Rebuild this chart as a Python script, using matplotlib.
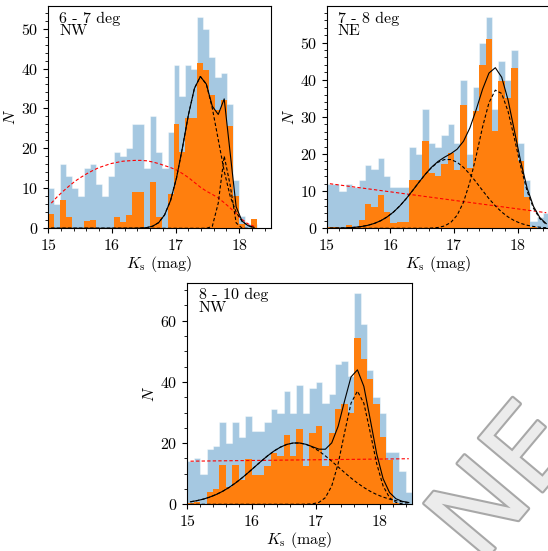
import numpy as np
import matplotlib
matplotlib.use('Agg')
import matplotlib.pyplot as plt
import matplotlib.patheffects as pe
from matplotlib.ticker import MultipleLocator

plt.rcParams.update({
    'font.family': 'serif',
    'font.serif': ['cmr10', 'DejaVu Serif'],
    'mathtext.fontset': 'cm',
    'axes.formatter.use_mathtext': True,
    'font.size': 11.5,
})

# ---- panel 1: 6 - 7 deg, NW (bins of ~0.094 mag) ----
p1_blue = [10, 6, 16, 13, 10, 8, 15, 16, 11, 8, 13, 19, 18, 20, 26, 26, 15, 28, 19, 15,
           24, 41, 33, 41, 40, 53, 50, 43, 38, 39, 31, 12, 3, 1, 1]
p1_orange = [3.6, 0, 7, 2.8, 0, 0, 1.8, 2.1, 0, 0, 0, 2.9, 1.6, 3.4, 9.2, 9.2, 0, 11.5, 2.8, 0,
             8.6, 26, 19, 27.5, 27.5, 41.5, 39.7, 33.4, 29.5, 32, 25.5, 8, 1, 0, 2.4]
p1_comp_a = [0] * 15 + [0.05, 0.17, 0.53, 1.41, 3.35, 6.95, 12.6, 20.2, 28.4, 35.0,
                        38.0, 36.1, 30.1, 22.2, 14.3, 8.05, 4.02, 1.75, 0.67, 0.23]
p1_comp_b = [0] * 27 + [0.47, 6.3, 18.1, 10.8, 1.37, 0.04, 0, 0]
p1_total = [0] * 15 + [0.05, 0.17, 0.53, 1.41, 3.35, 6.95, 12.6, 20.2, 28.4, 35.0,
                       38.0, 36.1, 30.57, 28.5, 32.4, 18.85, 5.39, 1.79, 0.67, 0.23]
p1_red = [6.3, 7.9, 9.3, 10.6, 11.8, 12.8, 13.7, 14.5, 15.2, 15.7, 16.2, 16.5, 16.8, 16.9,
          17.0, 17.0, 16.9, 16.6, 16.2, 15.7, 15.2, 14.6, 13.7, 12.7, 11.5, 10.3, 9.3, 8.5,
          7.6, 6.4, 5.1, 3.7, 2.2, 1.1, 0.5]

# ---- panel 2: 7 - 8 deg, NE ----
p2_blue = [12, 12, 10, 12, 11, 13, 17, 16, 19, 14, 11, 11, 11, 22, 20, 32, 23, 22, 25, 28,
           23, 40, 20, 38, 50, 57, 32, 45, 40, 48, 23, 13, 2, 3, 4]
p2_orange = [0.3, 0.3, 0, 0.8, 0.3, 2.3, 6.6, 5.8, 9, 4.4, 1.4, 1.7, 1.7, 13, 13, 23.5, 15, 14,
             17.2, 20.4, 15.7, 33.2, 16.3, 31.7, 44, 51.1, 26.2, 39.6, 35, 43.2, 18.2, 8.4,
             0.3, 0, 0]
p2_comp_a = [0.02, 0.04, 0.08, 0.15, 0.28, 0.49, 0.82, 1.32, 2.05, 3.06, 4.38, 6.04, 7.99,
             10.16, 12.41, 14.56, 16.41, 17.78, 18.51, 18.51, 17.78, 16.41, 14.56, 12.41,
             10.16, 7.99, 6.04, 4.38, 3.06, 2.05, 1.32, 0.82, 0.49, 0.28, 0.15]
p2_comp_b = [0] * 16 + [0.07, 0.22, 0.62, 1.57, 3.52, 7.03, 12.45, 19.56, 27.3, 33.8, 37.2,
                        36.3, 31.5, 24.2, 16.6, 10.0, 5.41, 2.59, 1.10]
p2_total = [0.02, 0.04, 0.08, 0.15, 0.28, 0.49, 0.82, 1.32, 2.05, 3.06, 4.38, 6.04, 7.99,
            10.16, 12.41, 14.56, 16.48, 18.0, 19.13, 20.08, 21.3, 23.44, 27.01, 31.97, 37.46,
            41.79, 43.24, 40.68, 34.56, 26.25, 17.92, 10.82, 5.9, 2.87, 1.25]
p2_red_x = [15.05, 18.45]
p2_red_y = [12.0, 4.2]

# ---- panel 3: 8 - 10 deg, NW ----
p3_blue = [14, 15, 10, 18, 19, 27, 20, 27, 22, 29, 24, 24, 27, 31, 30, 37, 30, 39, 30, 38,
           40, 33, 36, 46, 47, 42, 69, 59, 44, 35, 30, 17, 17, 11, 4]
p3_orange = [0.5, 0.9, 0, 3.9, 4.9, 12.8, 5.8, 12.8, 7.8, 14.8, 9.6, 9.6, 12.6, 16.8, 15.7,
             22.6, 15.7, 24.5, 12.4, 23.4, 25.5, 12.4, 23.4, 31.3, 32.7, 29.7, 54.4, 47.5, 41,
             32.7, 22, 14.6, 0.3, 0, 0]
p3_comp_a = [0.82, 1.19, 1.69, 2.36, 3.2, 4.24, 5.5, 6.95, 8.59, 10.37, 12.23, 14.08, 15.84,
             17.41, 18.68, 19.58, 20.04, 20.04, 19.58, 18.68, 17.41, 15.84, 14.08, 12.23,
             10.37, 8.59, 6.95, 5.5, 4.24, 3.2, 2.36, 1.69, 1.19, 0.82, 0.55]
p3_comp_b = [0] * 18 + [0.03, 0.14, 0.62, 2.16, 6.0, 13.3, 23.45, 33.06, 37.0, 33.06, 23.45,
                        13.3, 6.0, 2.16, 0.62, 0.14, 0.03]
p3_total = [0.82, 1.19, 1.69, 2.36, 3.2, 4.24, 5.5, 6.95, 8.59, 10.37, 12.23, 14.08, 15.84,
            17.41, 18.68, 19.58, 20.04, 20.04, 19.61, 18.82, 18.03, 18.0, 20.08, 25.53, 33.82,
            41.65, 43.95, 38.56, 27.69, 16.5, 8.36, 3.85, 1.81, 0.96, 0.58]
p3_red_x = [15.05, 18.45]
p3_red_y = [14.1, 14.9]

p1_edges = np.linspace(15.0, 18.28, 36)
p23_edges = np.linspace(15.0, 18.5, 36)

W, H = 548, 551
fig = plt.figure(figsize=(W / 100, H / 100), dpi=100)


def px_axes(left, top, right, bottom):
    return fig.add_axes([left / W, 1 - bottom / H, (right - left) / W, (bottom - top) / H])


def draw_panel(ax, edges, blue, orange, comp_a, comp_b, total, red_x, red_y, label,
               ymajor, yminor):
    centers = 0.5 * (edges[:-1] + edges[1:])
    ax.stairs(blue, edges, fill=True, facecolor='#1f77b4', edgecolor='white',
              linewidth=0.8, alpha=0.4)
    ax.stairs(orange, edges, fill=True, facecolor='#ff7f0e', linewidth=0)
    ax.plot(red_x, red_y, color='red', ls=(0, (3, 2)), lw=0.8)
    ax.plot(centers, comp_a, color='k', ls=(0, (3, 2)), lw=0.8)
    ax.plot(centers, comp_b, color='k', ls=(0, (3, 2)), lw=0.8)
    ax.plot(centers, total, color='k', lw=0.8)
    ax.set_xlim(15, 18.5)
    ax.xaxis.set_major_locator(MultipleLocator(1))
    ax.xaxis.set_minor_locator(MultipleLocator(0.2))
    ax.yaxis.set_major_locator(MultipleLocator(ymajor))
    ax.yaxis.set_minor_locator(MultipleLocator(yminor))
    ax.set_xlabel(r'$K_{\rm s}$ (mag)', labelpad=1)
    ax.set_ylabel(r'$N$', labelpad=2)
    ax.text(0.05, 0.975, label, transform=ax.transAxes, va='top', ha='left',
            linespacing=0.85)


ax1 = px_axes(48.3, 6, 271, 228.3)
draw_panel(ax1, p1_edges, p1_blue, p1_orange, p1_comp_a, p1_comp_b, p1_total,
           0.5 * (p1_edges[:-1] + p1_edges[1:]), p1_red, '6 - 7 deg\nNW', 10, 2)

ax2 = px_axes(326.7, 6, 549.4, 228.3)
draw_panel(ax2, p23_edges, p2_blue, p2_orange, p2_comp_a, p2_comp_b, p2_total,
           p2_red_x, p2_red_y, '7 - 8 deg\nNE', 10, 2)

ax3 = px_axes(187.3, 282.7, 412, 504.3)
draw_panel(ax3, p23_edges, p3_blue, p3_orange, p3_comp_a, p3_comp_b, p3_total,
           p3_red_x, p3_red_y, '8 - 10 deg\nNW', 20, 5)

# faint outlined stamp in the lower right corner, cut by the edge as in the original
fig.text(0.925, 0.12, 'NE', rotation=50, fontsize=82, color='#ececec',
         family='DejaVu Sans', ha='center', va='center',
         path_effects=[pe.withStroke(linewidth=3, foreground='#a8a8a8')])

fig.savefig('out.png', dpi=100)
